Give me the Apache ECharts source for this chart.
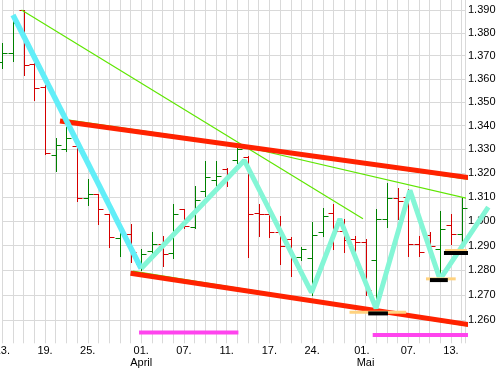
<!DOCTYPE html>
<html><head><meta charset="utf-8">
<script src="https://cdn.jsdelivr.net/npm/echarts@6/dist/echarts.min.js"></script>
<style>html,body{margin:0;padding:0;background:#fff}#c{width:504px;height:369px}</style>
</head><body><div id="c"></div>
<script>
// OHLC per trading day (index 0..43)
const openV  = [1.3671,1.3713,1.3900,1.3665,1.3567,1.3274,1.3299,1.3313,1.3098,1.3111,1.3029,1.2930,1.2947,1.2825,1.2878,1.2906,1.2872,1.3049,1.2978,1.3125,1.3169,1.3215,1.3253,1.3267,1.3036,1.3029,1.2954,1.2927,1.2853,1.2848,1.2954,1.3036,1.2959,1.2927,1.2914,1.2843,1.3008,1.3098,1.3099,1.2906,1.2943,1.2886,1.2983,1.2947];
const highV  = [1.3755,1.3852,1.3902,1.3668,1.3572,1.3348,1.3396,1.3341,1.3176,1.3111,1.3029,1.2990,1.2990,1.2886,1.2955,1.2940,1.3070,1.3049,1.3148,1.3250,1.3250,1.3222,1.3313,1.3271,1.3070,1.3029,1.3022,1.2934,1.2894,1.2995,1.3056,1.3070,1.3008,1.2940,1.2927,1.3049,1.3159,1.3139,1.3132,1.2940,1.2955,1.3042,1.3029,1.3098];
const lowV   = [1.3646,1.3678,1.3617,1.3510,1.3282,1.3208,1.3292,1.3084,1.3068,1.2990,1.2893,1.2859,1.2832,1.2801,1.2858,1.2818,1.2848,1.2974,1.2974,1.3104,1.3146,1.3146,1.3243,1.2852,1.2940,1.2934,1.2825,1.2778,1.2841,1.2700,1.2940,1.2886,1.2874,1.2853,1.2700,1.2632,1.2975,1.3008,1.2859,1.2859,1.2886,1.2765,1.2906,1.2894];
const closeV = [1.3711,1.3844,1.3658,1.3560,1.3285,1.3320,1.3348,1.3095,1.3111,1.3052,1.2934,1.2947,1.2873,1.2866,1.2906,1.2866,1.3029,1.2981,1.3087,1.3183,1.3187,1.3194,1.3299,1.3029,1.3029,1.2954,1.2899,1.2853,1.2886,1.2943,1.3022,1.2961,1.2924,1.2913,1.2720,1.3008,1.3098,1.3084,1.2906,1.2873,1.2898,1.2967,1.2947,1.3056];

// axis labels
const yTicks = [1.26,1.27,1.28,1.29,1.30,1.31,1.32,1.33,1.34,1.35,1.36,1.37,1.38,1.39];
const dayPos = [0,4,8,13,17,21,25,29,33.65,38,42];
const dayLabels = ['13.','19.','25.','01.','07.','11.','17.','24.','01.','07.','13.'];
const monthPos = [13,34];
const monthLabels = ['April','Mai'];

// drawn studies: [dayIndex, price]
const cyanLine   = [[1.0,1.3878],[13,1.2807]];
const zigzag     = [[13,1.2807],[22.65,1.3253],[28.94,1.2710],[31.6,1.3010],[34.98,1.2646],[38.16,1.3128],[40.97,1.2763],[45.49,1.3058]];
const redUpper   = [[5.4,1.3420],[46.96,1.3161]];
const redLower   = [[12,1.2788],[46.96,1.2560]];
const limeUpper  = [[5.6,1.3426],[46.96,1.3154]];
const limeLower  = [[12.2,1.2795],[46.96,1.2554]];
const limeA      = [[1.8,1.3900],[33.76,1.3010]];
const limeB      = [[22,1.3318],[46.96,1.3059]];
const pinkA      = [[12.8,1.2550],[22.1,1.2550]];
const pinkB      = [[34.67,1.2540],[45.9,1.2540]];
const orangeA    = [[32.5,1.2631],[37.8,1.2631]];
const blackA     = [[34.25,1.2626],[36.1,1.2626]];
const orangeB    = [[39.66,1.2765],[42.44,1.2765]];
const blackB     = [[40.03,1.2760],[41.7,1.2760]];
const orangeC    = [[41.44,1.2880],[44.4,1.2880]];
const blackC     = [[41.34,1.2870],[44.63,1.2870]];

const FONT = '"Liberation Sans", Arial, sans-serif';
const chart = echarts.init(document.getElementById('c'), null, {renderer:'canvas'});

function lineS(data, color, width, z){
  return {type:'line', data:data, symbol:'none', showSymbol:false, clip:false, silent:true, animation:false, z:z,
    lineStyle:{color:color, width:width, cap:'butt', join:'bevel'}};
}
// polyline drawn through the axes with a custom series (one item = whole path)
function polyS(data, color, width, z){
  return {type:'custom', data:[0], clip:false, silent:true, animation:false, z:z,
    renderItem:function(params, api){
      return {type:'polyline', shape:{points:data.map(p=>api.coord(p))},
        style:{stroke:color, lineWidth:width, fill:null, lineJoin:'bevel', lineCap:'butt'}};
    }};
}
function near(arr, v){ let b=0; for(let i=0;i<arr.length;i++){ if(Math.abs(arr[i]-v)<Math.abs(arr[b]-v)) b=i; } return b; }

const ohlc = openV.map((o,i)=>[i,o,highV[i],lowV[i],closeV[i]]);

chart.setOption({
  animation:false,
  textStyle:{fontFamily:FONT},
  grid:{left:2.3, right:39, top:0, bottom:25.7, containLabel:false, outerBoundsMode:'none'},
  xAxis:[{
    type:'value', min:0, max:43.31, interval:1,
    axisLine:{show:false}, axisTick:{show:false},
    splitLine:{show:true, lineStyle:{color:'#d9d9d9', width:1}},
    axisLabel:{customValues:dayPos, margin:2, fontSize:11, lineHeight:12, color:'#000', fontFamily:FONT,
      hideOverlap:false, formatter:v=>dayLabels[near(dayPos,v)]}
  },{
    type:'value', min:0, max:43.31, position:'bottom', offset:12,
    axisLine:{show:false}, axisTick:{show:false}, splitLine:{show:false},
    axisLabel:{customValues:monthPos, margin:2, fontSize:11, lineHeight:12, color:'#000', fontFamily:FONT,
      formatter:v=>monthLabels[near(monthPos,v)]}
  }],
  yAxis:{
    type:'log', logBase:10, min:1.2507, max:1.3944, position:'right',
    axisLine:{show:false},
    axisTick:{show:false, customValues:yTicks},
    splitLine:{show:true, lineStyle:{color:'#d9d9d9', width:1}},
    axisLabel:{customValues:yTicks, margin:3, fontSize:11, color:'#000', fontFamily:FONT, padding:[3,0,0,0],
      formatter:v=>Number(v).toFixed(3)}
  },
  series:[
    {type:'custom', data:ohlc, clip:false, silent:true, animation:false, z:2,
      encode:{x:0, y:[1,2,3,4]},
      renderItem:function(params, api){
        const i=api.value(0);
        const o=api.value(1), h=api.value(2), l=api.value(3), c=api.value(4);
        const pO=api.coord([i,o]), pH=api.coord([i,h]), pL=api.coord([i,l]), pC=api.coord([i,c]);
        const x=Math.round(pO[0])+0.5;
        const col = c>=o ? '#008000' : '#d40000';
        const r=v=>Math.round(v)+0.5;
        return {type:'group', children:[
          {type:'line', shape:{x1:x,y1:Math.round(pH[1]),x2:x,y2:Math.round(pL[1])+1}, style:{stroke:col,lineWidth:1}},
          {type:'line', shape:{x1:x-5,y1:r(pO[1]),x2:x,y2:r(pO[1])}, style:{stroke:col,lineWidth:1}},
          {type:'line', shape:{x1:x,y1:r(pC[1]),x2:x+5,y2:r(pC[1])}, style:{stroke:col,lineWidth:1}}
        ]};
      }
    },
    lineS(limeA,'#5ee600',1.2,3),
    lineS(limeB,'#5ee600',1.2,3),
    lineS(limeUpper,'#5ee600',2,3),
    lineS(limeLower,'#5ee600',2,3),
    lineS(redUpper,'#ff2200',5,4),
    lineS(redLower,'#ff2200',5,4),
    lineS(cyanLine,'#62eef8',5.5,5),
    polyS(zigzag,'#84f6d6',5,6),
    lineS(orangeA,'#ffd27f',3,7),
    lineS(orangeB,'#ffd27f',3,7),
    lineS(orangeC,'#ffd27f',3,7),
    lineS(blackA,'#000000',4,8),
    lineS(blackB,'#000000',4,8),
    lineS(blackC,'#000000',4,8),
    lineS(pinkA,'#ff44ee',4,9),
    lineS(pinkB,'#ff44ee',4,9)
  ]
});
</script></body></html>
